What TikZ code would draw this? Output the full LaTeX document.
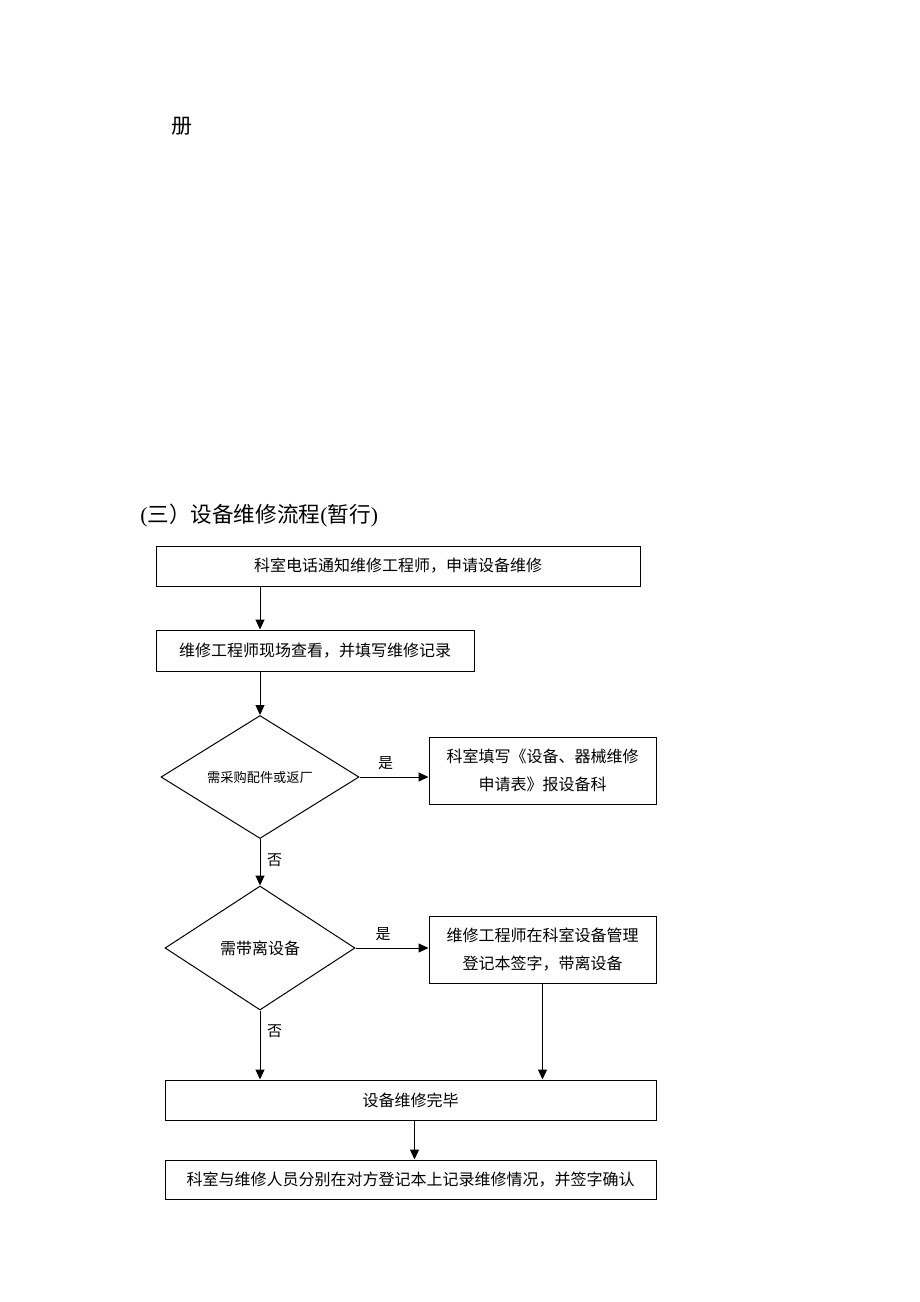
\documentclass[tikz,border=0pt]{standalone}
\usepackage{fontspec}
\setmainfont{Liberation Serif}
\newfontfamily\cjk{Noto Sans CJK SC}
\usetikzlibrary{shapes.geometric,arrows.meta}
\tikzset{
	box/.style={draw, line width=.5pt, inner sep=0pt, align=center, font=\cjk\fontsize{8pt}{14pt}\selectfont},
	decision/.style={draw, diamond, line width=.5pt, inner sep=0pt, font=\cjk\fontsize{8pt}{10pt}\selectfont},
	lbl/.style={font=\cjk\fontsize{7.5pt}{9pt}\selectfont},
	arr/.style={line width=.5pt, -{Triangle[length=5pt,width=4.5pt]}}
}
\begin{document}
\begin{tikzpicture}[x=.5pt,y=-.5pt]
		\useasboundingbox (0,0) rectangle (920,1302);
		%page text
		\node (page) at (182,126) {\cjk\fontsize{10.5pt}{12pt}\selectfont 册};
		\node[anchor=west, inner sep=0pt] (title) at (140,516) {\fontsize{10.8pt}{13pt}\selectfont (\cjk 三）设备维修流程\rmfamily(\cjk 暂行\rmfamily)};
		%boxes
		\node[box, minimum width=242pt, minimum height=20pt] (notify) at (398,566) {科室电话通知维修工程师，申请设备维修};
		\node[box, minimum width=159pt, minimum height=20.5pt] (inspect) at (315,650.5) {维修工程师现场查看，并填写维修记录};
		\node[decision, minimum width=99pt, minimum height=61.5pt] (buyq) at (260,777) {\fontsize{6.6pt}{8pt}\selectfont 需采购配件或返厂};
		\node[box, minimum width=113.5pt, minimum height=33.5pt] (form) at (542.5,770.5) {科室填写《设备、器械维修\\申请表》报设备科};
		\node[decision, minimum width=95pt, minimum height=62pt] (takeq) at (260,948) {需带离设备};
		\node[box, minimum width=113.5pt, minimum height=33.5pt] (signout) at (542.5,949.5) {维修工程师在科室设备管理\\登记本签字，带离设备};
		\node[box, minimum width=245.5pt, minimum height=20pt] (done) at (410.5,1100) {设备维修完毕};
		\node[box, minimum width=245.5pt, minimum height=19.5pt] (confirm) at (410.5,1179.5) {科室与维修人员分别在对方登记本上记录维修情况，并签字确认};
		%arrows
		\draw[arr] (notify.south -| buyq.north) -- (inspect.north -| buyq.north);
		\draw[arr] (inspect.south -| buyq.north) -- (buyq.north);
		\draw[arr] (buyq.east) -- node[lbl, pos=.38, above] {是} (buyq.east -| form.west);
		\draw[arr] (buyq.south) -- node[lbl, pos=.45, right] {否} (takeq.north);
		\draw[arr] (takeq.east) -- node[lbl, pos=.38, above] {是} (takeq.east -| signout.west);
		\draw[arr] (takeq.south) -- node[lbl, pos=.3, right] {否} (takeq.south |- done.north);
		\draw[arr] (signout.south) -- (signout.south |- done.north);
		\draw[arr] ([xshift=2pt]done.south) -- ([xshift=2pt]done.south |- confirm.north);
	\end{tikzpicture}
\end{document}
